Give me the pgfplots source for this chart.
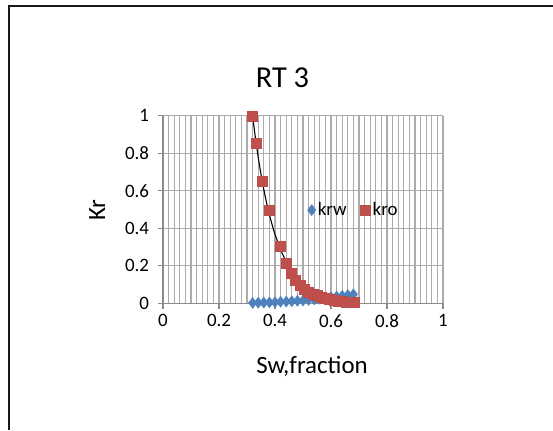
\documentclass[border=0pt]{standalone}
\usepackage{pgfplots}
\pgfplotsset{compat=1.18}
\usepackage{fontspec}
\setmainfont{Carlito}
\definecolor{krwblue}{HTML}{4F81BD}
\definecolor{krwedge}{HTML}{4A7EBB}
\definecolor{krored}{HTML}{C0504D}
\definecolor{kroedge}{HTML}{BE4B48}
\definecolor{gridgray}{HTML}{ABABAB}
\definecolor{axisgray}{HTML}{8C8C8C}
\begin{document}
\begin{tikzpicture}[x=1bp,y=1bp]
\path[use as bounding box] (0,0) rectangle (553,-430);
\draw[line width=1.6bp,black!90] (9,-430) -- (9,-5.7) -- (553,-5.7);
\node[anchor=base,font=\fontsize{30.5}{30.5}\selectfont] at (282.5,-87.7) {RT 3};
\node[anchor=base,font=\fontsize{25}{25}\selectfont] at (312,-373) {Sw,fraction};
\node[anchor=base,rotate=90,font=\fontsize{25}{25}\selectfont] at (105,-210) {Kr};
\begin{axis}[
  at={(163bp,-303.3bp)}, anchor=south west,
  scale only axis, width=280bp, height=187.6bp,
  xmin=0, xmax=1, ymin=0, ymax=1,
  xtick={0,0.2,0.4,0.6,0.8,1},
  ytick={0,0.2,0.4,0.6,0.8,1},
  minor x tick num=9,
  xmajorgrids, xminorgrids, ymajorgrids,
  grid style={gridgray, line width=1.3bp},
  minor grid style={gridgray, line width=1.3bp},
  axis x line*=bottom, axis y line*=left,
  axis line style={axisgray, line width=1.3bp},
  tick align=outside,
  major tick length=5.5bp, minor tick length=0pt,
  tick style={axisgray, line width=1.3bp},
  /pgf/number format/assume math mode=true,
  ticklabel style={font=\fontsize{19}{19}\selectfont},
  yticklabel style={xshift=-5bp},
  xticklabel style={yshift=-2bp},
  legend style={at={(axis cs:0.505,0.497)}, anchor=west, draw=none, fill=none,
    font=\fontsize{19}{19}\selectfont, legend columns=2,
    /tikz/every even column/.append style={column sep=12bp}},
  legend cell align=left,
]
\addplot[only marks, mark=diamond*, mark size=5.5bp, mark options={fill=krwblue, draw=krwedge, line width=0.4bp}]
coordinates {
(0.32,0.002) (0.34,0.003) (0.36,0.004) (0.38,0.005) (0.40,0.006)
(0.42,0.008) (0.44,0.009) (0.46,0.011) (0.48,0.013) (0.50,0.015)
(0.52,0.018) (0.54,0.021) (0.56,0.024) (0.58,0.028) (0.60,0.032)
(0.62,0.036) (0.64,0.040) (0.66,0.044) (0.68,0.048)
};
\addlegendentry{krw}
\addplot[only marks, mark=square*, mark size=5bp, mark options={fill=krored, draw=kroedge, line width=0.4bp}]
coordinates {
(0.318,1.000) (0.333,0.853) (0.355,0.652) (0.379,0.497) (0.419,0.307)
(0.440,0.212) (0.457,0.160) (0.472,0.122) (0.490,0.095) (0.505,0.075)
(0.520,0.060) (0.535,0.050) (0.550,0.041) (0.565,0.034) (0.580,0.027)
(0.595,0.021) (0.610,0.016) (0.625,0.012) (0.640,0.009) (0.655,0.007)
(0.670,0.005) (0.683,0.004)
};
\addlegendentry{kro}
\addplot[black, line width=1.1bp, smooth, forget plot]
coordinates {
(0.32,1.000) (0.33,0.8825) (0.34,0.7788) (0.35,0.6873) (0.36,0.6065)
(0.37,0.5353) (0.38,0.4724) (0.39,0.4169) (0.40,0.3679) (0.42,0.2865)
(0.44,0.2231) (0.46,0.1738) (0.48,0.1353) (0.50,0.1054) (0.52,0.0821)
(0.54,0.0639) (0.56,0.0498) (0.58,0.0388) (0.60,0.0302) (0.62,0.0235)
(0.64,0.0183) (0.66,0.0143) (0.68,0.0111)
};
\addplot[black, line width=1.1bp, smooth, forget plot]
coordinates {
(0.32,0.003) (0.40,0.008) (0.50,0.016) (0.60,0.029) (0.68,0.045)
};
\end{axis}
\end{tikzpicture}
\end{document}
